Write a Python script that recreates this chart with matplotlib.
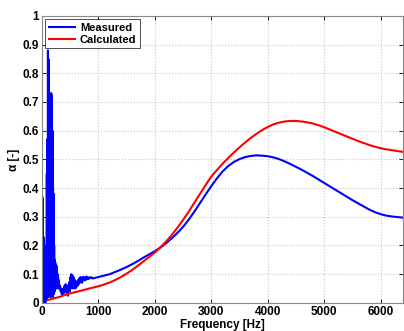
import numpy as np
import matplotlib
matplotlib.use("Agg")
import matplotlib.pyplot as plt

plt.rcParams['font.family'] = ['Liberation Sans', 'DejaVu Sans']

# measured absorption, noisy low-frequency part (5 Hz steps, 0-295 Hz)
freq_low = np.arange(0, 300, 5)
meas_low = [0.0, 0.37, 0.01, 0.36, 0.02, 0.23, 0.01, 0.22, 0.0, 0.18,
            0.01, 0.15, 0.0, 0.16, 0.02, 0.2, 0.01, 0.45, 0.02, 0.57,
            0.03, 0.88, 0.02, 0.85, 0.04, 0.6, 0.03, 0.5, 0.05, 0.45,
            0.02, 0.73, 0.04, 0.73, 0.03, 0.72, 0.05, 0.6, 0.02, 0.4,
            0.06, 0.38, 0.03, 0.2, 0.07, 0.15, 0.04, 0.14, 0.08, 0.12,
            0.05, 0.13, 0.09, 0.11, 0.06, 0.1, 0.08, 0.09, 0.05, 0.08]

# measured, mid part (10 Hz steps, 300-890 Hz)
freq_mid = np.arange(300, 900, 10)
meas_mid = [0.07, 0.05, 0.06, 0.04, 0.05, 0.03, 0.045, 0.03, 0.05, 0.035,
            0.06, 0.04, 0.065, 0.05, 0.03, 0.06, 0.025, 0.05, 0.07, 0.04,
            0.09, 0.05, 0.1, 0.06, 0.095, 0.05, 0.09, 0.06, 0.08, 0.05,
            0.07, 0.055, 0.075, 0.06, 0.08, 0.065, 0.085, 0.07, 0.09, 0.075,
            0.085, 0.07, 0.09, 0.08, 0.09, 0.078, 0.088, 0.08, 0.092, 0.082,
            0.09, 0.083, 0.088, 0.084, 0.089, 0.086, 0.088, 0.086, 0.089, 0.087]

# measured, smooth part (100 Hz steps, 900-6400 Hz)
freq_high = np.arange(900, 6500, 100)
meas_high = [0.085, 0.09, 0.095, 0.10, 0.108, 0.116, 0.125, 0.135, 0.146, 0.158,
             0.169, 0.18, 0.193, 0.208, 0.225, 0.244, 0.265, 0.29, 0.318, 0.348,
             0.378, 0.407, 0.434, 0.458, 0.477, 0.491, 0.501, 0.508, 0.512, 0.514,
             0.513, 0.511, 0.507, 0.501, 0.493, 0.484, 0.474, 0.464, 0.453, 0.442,
             0.43, 0.418, 0.406, 0.394, 0.382, 0.37, 0.358, 0.347, 0.336, 0.325,
             0.316, 0.309, 0.304, 0.301, 0.299, 0.297]

# calculated absorption (100 Hz steps, 0-6400 Hz)
freq_calc = np.arange(0, 6500, 100)
calc = [0.004, 0.01, 0.015, 0.02, 0.027, 0.033, 0.038, 0.043, 0.048, 0.053,
        0.058, 0.064, 0.071, 0.08, 0.09, 0.102, 0.115, 0.13, 0.145, 0.16,
        0.176, 0.194, 0.214, 0.237, 0.262, 0.289, 0.318, 0.349, 0.38, 0.411,
        0.44, 0.463, 0.485, 0.505, 0.524, 0.542, 0.559, 0.575, 0.589, 0.602,
        0.613, 0.622, 0.628, 0.632, 0.634, 0.634, 0.632, 0.629, 0.625, 0.619,
        0.612, 0.604, 0.596, 0.588, 0.58, 0.572, 0.564, 0.557, 0.55, 0.544,
        0.539, 0.535, 0.532, 0.529, 0.526]

freq_meas = np.concatenate([freq_low, freq_mid, freq_high])
meas = np.concatenate([meas_low, meas_mid, meas_high])

fig = plt.figure(figsize=(4.04, 3.31), dpi=100)
ax = fig.add_axes([0.104, 0.085, 0.894, 0.867])

ax.plot(freq_meas, meas, color='#0000ff', lw=1.5, label='Measured')
ax.plot(freq_calc[1:], calc[1:], color='#ff0000', lw=1.5, label='Calculated')

ax.set_xlim(0, 6400)
ax.set_ylim(0, 1)
ax.set_xticks(np.arange(0, 7000, 1000))
ax.set_yticks(np.arange(0, 1.01, 0.1))
ax.set_yticklabels(['0', '0.1', '0.2', '0.3', '0.4', '0.5', '0.6', '0.7', '0.8', '0.9', '1'])
ax.grid(True, color='#c8c8c8', linestyle=':', linewidth=0.8)
ax.tick_params(direction='in', top=True, right=True, length=3, width=0.6,
               labelsize=8.5, pad=2)
for lab in ax.get_xticklabels() + ax.get_yticklabels():
    lab.set_fontweight('bold')
for sp in ax.spines.values():
    sp.set_color('#888888')
    sp.set_linewidth(0.8)

ax.set_xlabel('Frequency [Hz]', fontsize=8.5, fontweight='bold', labelpad=1)
ax.set_ylabel('α [-]', fontsize=8.5, fontweight='bold', labelpad=2)

leg = ax.legend(loc='upper left', fontsize=8, frameon=True, fancybox=False,
                borderaxespad=0.3, handlelength=2.4, borderpad=0.3,
                labelspacing=0.2, handletextpad=0.4)
leg.get_frame().set_edgecolor('black')
leg.get_frame().set_linewidth(0.6)
for t in leg.get_texts():
    t.set_fontweight('bold')

fig.savefig('out.png', dpi=100)
